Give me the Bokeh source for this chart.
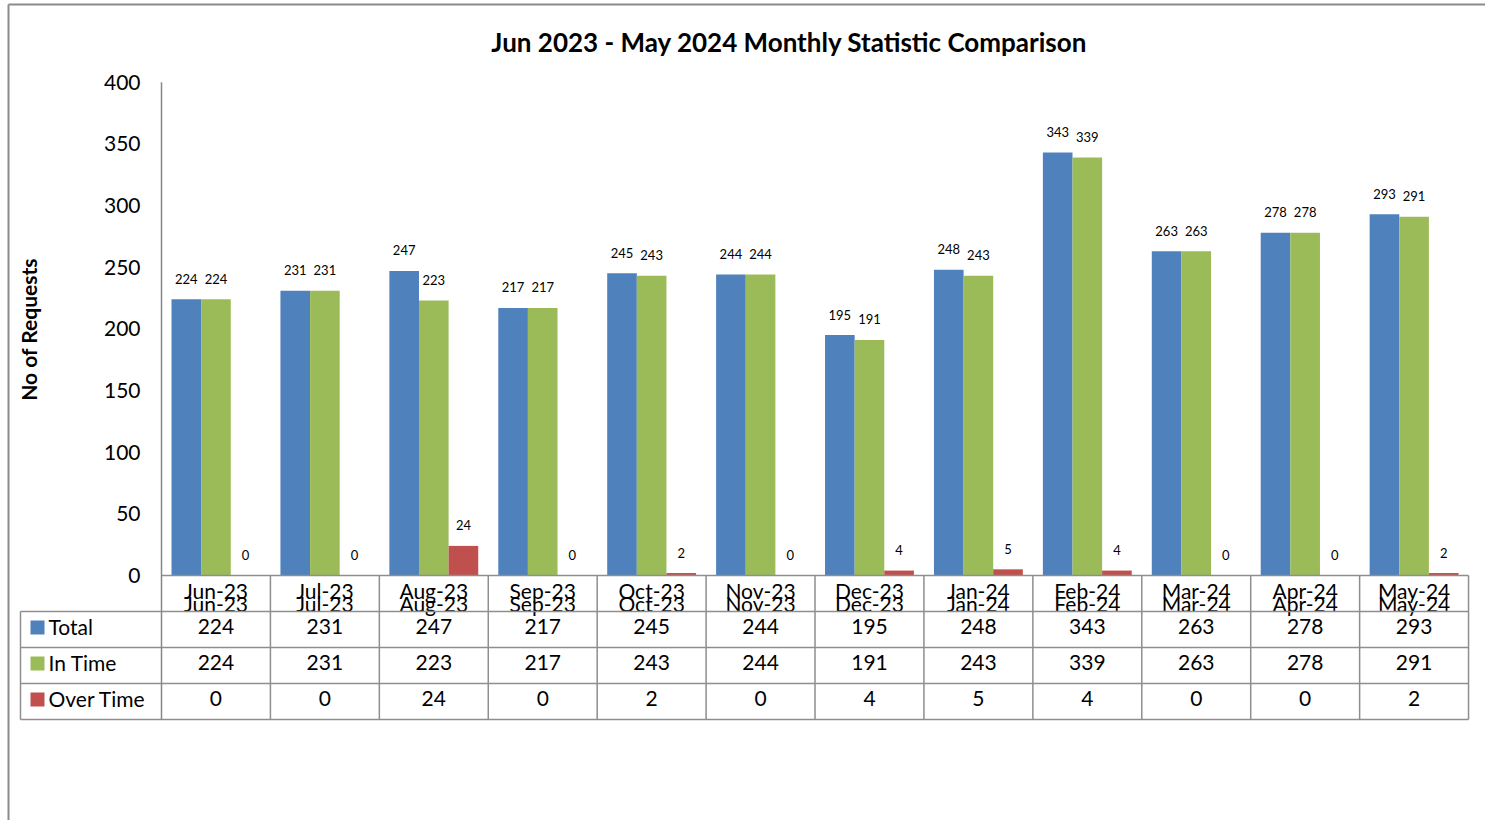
import math
from bokeh.plotting import figure
from bokeh.models import ColumnDataSource, Range1d, FixedTicker
from bokeh.core.properties import value
from bokeh.embed import file_html
from bokeh.resources import INLINE

# ---------------- data ----------------
months = ["Jun-23", "Jul-23", "Aug-23", "Sep-23", "Oct-23", "Nov-23",
          "Dec-23", "Jan-24", "Feb-24", "Mar-24", "Apr-24", "May-24"]
total = [224, 231, 247, 217, 245, 244, 195, 248, 343, 263, 278, 293]
in_time = [224, 231, 223, 217, 243, 244, 191, 243, 339, 263, 278, 291]
over_time = [0, 0, 24, 0, 2, 0, 4, 5, 4, 0, 0, 2]
series_names = ["Total", "In Time", "Over Time"]
colors = ["#4F81BD", "#9BBB59", "#C0504D"]
y_ticks = [0, 50, 100, 150, 200, 250, 300, 350, 400]
title_text = "Jun 2023 - May 2024 Monthly Statistic Comparison"
y_title = "No of Requests"

# ---------------- layout (page pixels) ----------------
W, H = 1485, 820
AX_X = 161          # page x of the value axis / first category boundary
Y0 = 575            # page y of value 0
K = 1.2332          # px per value unit
XU = 108.92         # px per category
FONT = "Lato"
GRID = "#8E8E8E"
N = len(months)


def px_x(page_x):
    return (page_x - AX_X) / XU


def px_y(page_y):
    return (Y0 - page_y) / K


def dy(px):
    return px / K


p = figure(width=W, height=H, output_backend="svg", toolbar_location=None,
           x_range=Range1d(px_x(0), px_x(W)),
           y_range=Range1d(px_y(H), px_y(0)),
           x_axis_location=None, y_axis_location="left",
           min_border_left=0, min_border_right=0, min_border_top=0, min_border_bottom=0,
           background_fill_color="white", border_fill_color="white")
p.outline_line_color = None
p.xgrid.visible = False
p.ygrid.visible = False

ax = p.yaxis[0]
ax.ticker = FixedTicker(ticks=y_ticks)
ax.axis_line_color = None
ax.major_tick_line_color = None
ax.minor_tick_line_color = None
ax.major_tick_out = 0
ax.major_tick_in = 0
ax.major_label_standoff = -140
ax.major_label_text_font = FONT
ax.major_label_text_font_size = "21px"
ax.major_label_text_color = "#000000"

# ---------------- bars ----------------
series = [total, in_time, over_time]
bw = 0.272
offsets = [-bw, 0.0, bw]
for s, vals in enumerate(series):
    xs = [i + 0.5 + offsets[s] for i in range(N)]
    src = ColumnDataSource(dict(x=xs, top=vals,
                                ly=[v + dy(20.5) for v in vals],
                                lab=[str(v) for v in vals]))
    p.vbar(x="x", top="top", bottom=0, width=bw, source=src,
           fill_color=colors[s], line_color=None)
    p.text(x="x", y="ly", text="lab", source=src, text_align="center",
           text_baseline="middle", text_font=value(FONT), text_font_size="13px",
           text_color="#000000")

# ---------------- category labels (drawn twice as in the reference) ----------------
cx = [i + 0.5 for i in range(N)]
for off in (15, 28):
    p.text(x=cx, y=[-dy(off)] * N, text=months, text_align="center",
           text_baseline="middle", text_font=value(FONT), text_font_size="21px",
           text_color="#000000")

# ---------------- data table ----------------
for r, vals in enumerate(series):
    yc = -dy(51 + 36 * r)
    p.text(x=cx, y=[yc] * N, text=[str(v) for v in vals],
           text_align="center", text_baseline="middle", text_font=value(FONT),
           text_font_size="21px", text_color="#000000")
    # legend square + series name in the left column
    p.quad(left=px_x(30), right=px_x(44), top=-dy(36 + 36 * r + 9),
           bottom=-dy(36 + 36 * r + 23), fill_color=colors[r], line_color=None)
    p.text(x=[px_x(48)], y=[yc], text=[series_names[r]], text_align="left",
           text_baseline="middle", text_font=value(FONT), text_font_size="21px",
           text_color="#000000")

# horizontal table lines
p.segment(x0=0, y0=0, x1=N, y1=0, line_color=GRID, line_width=1.5)
for hy in (36, 72, 108, 144):
    p.segment(x0=px_x(20), y0=-dy(hy), x1=N, y1=-dy(hy), line_color=GRID, line_width=1.5)
# vertical table lines
p.segment(x0=list(range(1, N + 1)), y0=0, x1=list(range(1, N + 1)), y1=-dy(144),
          line_color=GRID, line_width=1.5)
p.segment(x0=px_x(20), y0=-dy(36), x1=px_x(20), y1=-dy(144), line_color=GRID, line_width=1.5)
# value axis line (continues down through the table)
p.segment(x0=0, y0=y_ticks[-1], x1=0, y1=-dy(144), line_color="#868686", line_width=1.5)

# ---------------- titles ----------------
p.text(x=[px_x(789)], y=[px_y(41)], text=[title_text], text_align="center",
       text_baseline="middle", text_font=value(FONT), text_font_style="bold",
       text_font_size="26px", text_color="#000000")
p.text(x=[px_x(28)], y=[px_y(329)], text=[y_title], angle=math.pi / 2,
       text_align="center", text_baseline="middle", text_font=value(FONT),
       text_font_style="bold", text_font_size="21px", text_color="#000000")

# ---------------- chart area border ----------------
p.segment(x0=[px_x(8), px_x(8)], y0=[px_y(4), px_y(4)],
          x1=[px_x(8), px_x(W + 20)], y1=[px_y(H + 20), px_y(4)],
          line_color="#8A8A8A", line_width=2)

open("out.html", "w").write(file_html(p, INLINE))
